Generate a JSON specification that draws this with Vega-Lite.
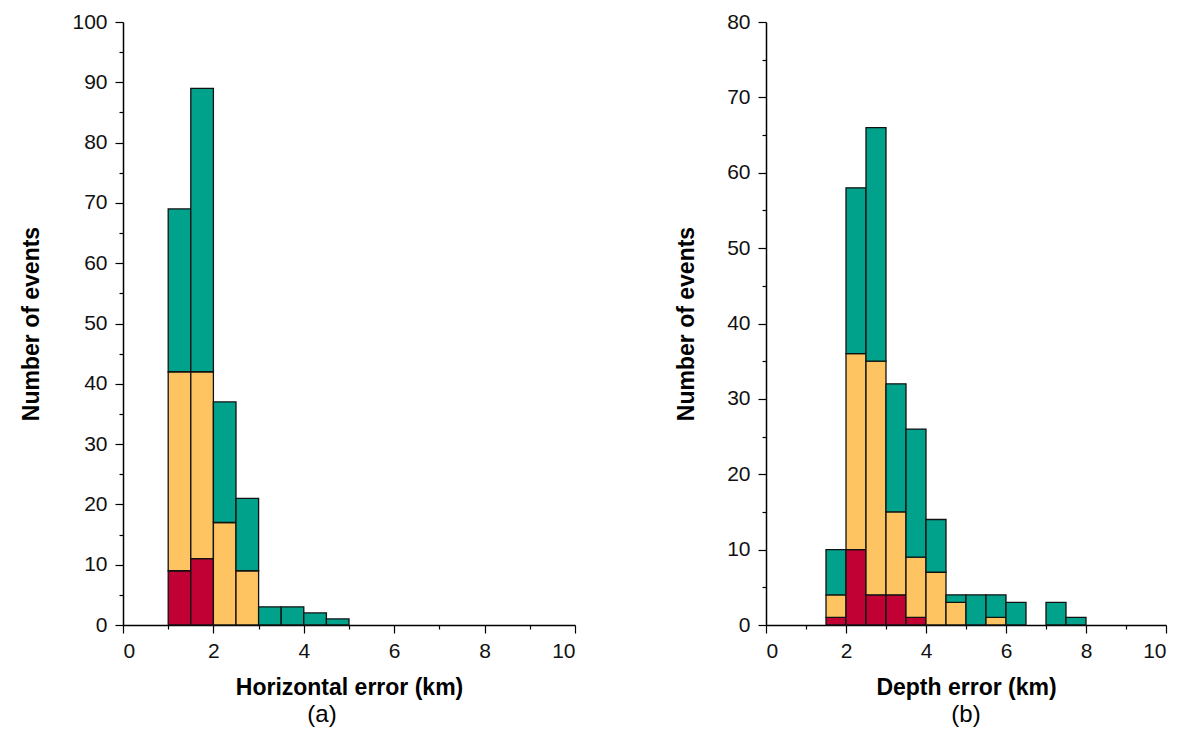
{
  "$schema": "https://vega.github.io/schema/vega-lite/v6.json",
  "padding": {"left": 20, "top": 11, "right": 5, "bottom": 5},
  "background": "white",
  "spacing": 99,
  "config": {
    "view": {"stroke": null},
    "axis": {
      "domainColor": "#000000",
      "domainWidth": 1.5,
      "tickColor": "#000000",
      "tickWidth": 1.2,
      "grid": false,
      "labelFont": "Liberation Sans",
      "labelFontSize": 21,
      "labelColor": "#111111",
      "titleFont": "Liberation Sans",
      "titleFontWeight": "bold",
      "titleFontSize": 23,
      "titleColor": "#000000"
    },
    "title": {"font": "Liberation Sans", "fontSize": 24, "fontWeight": "normal", "orient": "bottom", "color": "#000000", "offset": 4}
  },
  "datasets": {
    "horizontal": [
      {"start": 1.0, "end": 1.5, "quality": "A", "count": 9},
      {"start": 1.0, "end": 1.5, "quality": "B", "count": 33},
      {"start": 1.0, "end": 1.5, "quality": "C", "count": 27},
      {"start": 1.5, "end": 2.0, "quality": "A", "count": 11},
      {"start": 1.5, "end": 2.0, "quality": "B", "count": 31},
      {"start": 1.5, "end": 2.0, "quality": "C", "count": 47},
      {"start": 2.0, "end": 2.5, "quality": "B", "count": 17},
      {"start": 2.0, "end": 2.5, "quality": "C", "count": 20},
      {"start": 2.5, "end": 3.0, "quality": "B", "count": 9},
      {"start": 2.5, "end": 3.0, "quality": "C", "count": 12},
      {"start": 3.0, "end": 3.5, "quality": "C", "count": 3},
      {"start": 3.5, "end": 4.0, "quality": "C", "count": 3},
      {"start": 4.0, "end": 4.5, "quality": "C", "count": 2},
      {"start": 4.5, "end": 5.0, "quality": "C", "count": 1}
    ],
    "depth": [
      {"start": 1.5, "end": 2.0, "quality": "A", "count": 1},
      {"start": 1.5, "end": 2.0, "quality": "B", "count": 3},
      {"start": 1.5, "end": 2.0, "quality": "C", "count": 6},
      {"start": 2.0, "end": 2.5, "quality": "A", "count": 10},
      {"start": 2.0, "end": 2.5, "quality": "B", "count": 26},
      {"start": 2.0, "end": 2.5, "quality": "C", "count": 22},
      {"start": 2.5, "end": 3.0, "quality": "A", "count": 4},
      {"start": 2.5, "end": 3.0, "quality": "B", "count": 31},
      {"start": 2.5, "end": 3.0, "quality": "C", "count": 31},
      {"start": 3.0, "end": 3.5, "quality": "A", "count": 4},
      {"start": 3.0, "end": 3.5, "quality": "B", "count": 11},
      {"start": 3.0, "end": 3.5, "quality": "C", "count": 17},
      {"start": 3.5, "end": 4.0, "quality": "A", "count": 1},
      {"start": 3.5, "end": 4.0, "quality": "B", "count": 8},
      {"start": 3.5, "end": 4.0, "quality": "C", "count": 17},
      {"start": 4.0, "end": 4.5, "quality": "B", "count": 7},
      {"start": 4.0, "end": 4.5, "quality": "C", "count": 7},
      {"start": 4.5, "end": 5.0, "quality": "B", "count": 3},
      {"start": 4.5, "end": 5.0, "quality": "C", "count": 1},
      {"start": 5.0, "end": 5.5, "quality": "C", "count": 4},
      {"start": 5.5, "end": 6.0, "quality": "B", "count": 1},
      {"start": 5.5, "end": 6.0, "quality": "C", "count": 3},
      {"start": 6.0, "end": 6.5, "quality": "C", "count": 3},
      {"start": 7.0, "end": 7.5, "quality": "C", "count": 3},
      {"start": 7.5, "end": 8.0, "quality": "C", "count": 1}
    ]
  },
  "hconcat": [
    {
      "width": 452,
      "height": 603,
      "title": {"text": "(a)", "dx": -27},
      "data": {"name": "horizontal"},
      "transform": [
        {"stack": "count", "groupby": ["start"], "sort": [{"field": "quality"}], "as": ["y0", "y1"]}
      ],
      "mark": {"type": "bar", "stroke": "#111111", "strokeWidth": 1.3},
      "encoding": {
        "x": {
          "field": "start", "type": "quantitative",
          "scale": {"domain": [0, 10], "nice": false},
          "axis": {
            "title": "Horizontal error (km)",
            "values": [0, 1, 2, 3, 4, 5, 6, 7, 8, 9, 10],
            "labelExpr": "datum.value % 2 === 0 ? datum.label : ''",
            "tickSize": {"condition": {"test": "datum.value % 2 === 0", "value": 8}, "value": 4},
            "labelPadding": 7,
            "titlePadding": 15
          }
        },
        "x2": {"field": "end"},
        "y": {
          "field": "y0", "type": "quantitative",
          "scale": {"domain": [0, 100], "nice": false},
          "axis": {
            "title": "Number of events",
            "values": [0, 5, 10, 15, 20, 25, 30, 35, 40, 45, 50, 55, 60, 65, 70, 75, 80, 85, 90, 95, 100],
            "labelExpr": "datum.value % 10 === 0 ? datum.label : ''",
            "tickSize": {"condition": {"test": "datum.value % 10 === 0", "value": 8}, "value": 4},
            "labelPadding": 8,
            "titlePadding": 28
          }
        },
        "y2": {"field": "y1"},
        "color": {
          "field": "quality", "type": "nominal",
          "scale": {"domain": ["A", "B", "C"], "range": ["#c10034", "#ffc462", "#00a28b"]},
          "legend": null
        }
      }
    },
    {
      "width": 400,
      "height": 603,
      "title": {"text": "(b)"},
      "data": {"name": "depth"},
      "transform": [
        {"stack": "count", "groupby": ["start"], "sort": [{"field": "quality"}], "as": ["y0", "y1"]}
      ],
      "mark": {"type": "bar", "stroke": "#111111", "strokeWidth": 1.3},
      "encoding": {
        "x": {
          "field": "start", "type": "quantitative",
          "scale": {"domain": [0, 10], "nice": false},
          "axis": {
            "title": "Depth error (km)",
            "values": [0, 1, 2, 3, 4, 5, 6, 7, 8, 9, 10],
            "labelExpr": "datum.value % 2 === 0 ? datum.label : ''",
            "tickSize": {"condition": {"test": "datum.value % 2 === 0", "value": 8}, "value": 4},
            "labelPadding": 7,
            "titlePadding": 15
          }
        },
        "x2": {"field": "end"},
        "y": {
          "field": "y0", "type": "quantitative",
          "scale": {"domain": [0, 80], "nice": false},
          "axis": {
            "title": "Number of events",
            "values": [0, 5, 10, 15, 20, 25, 30, 35, 40, 45, 50, 55, 60, 65, 70, 75, 80],
            "labelExpr": "datum.value % 10 === 0 ? datum.label : ''",
            "tickSize": {"condition": {"test": "datum.value % 10 === 0", "value": 8}, "value": 4},
            "labelPadding": 8,
            "titlePadding": 28
          }
        },
        "y2": {"field": "y1"},
        "color": {
          "field": "quality", "type": "nominal",
          "scale": {"domain": ["A", "B", "C"], "range": ["#c10034", "#ffc462", "#00a28b"]},
          "legend": null
        }
      }
    }
  ]
}
